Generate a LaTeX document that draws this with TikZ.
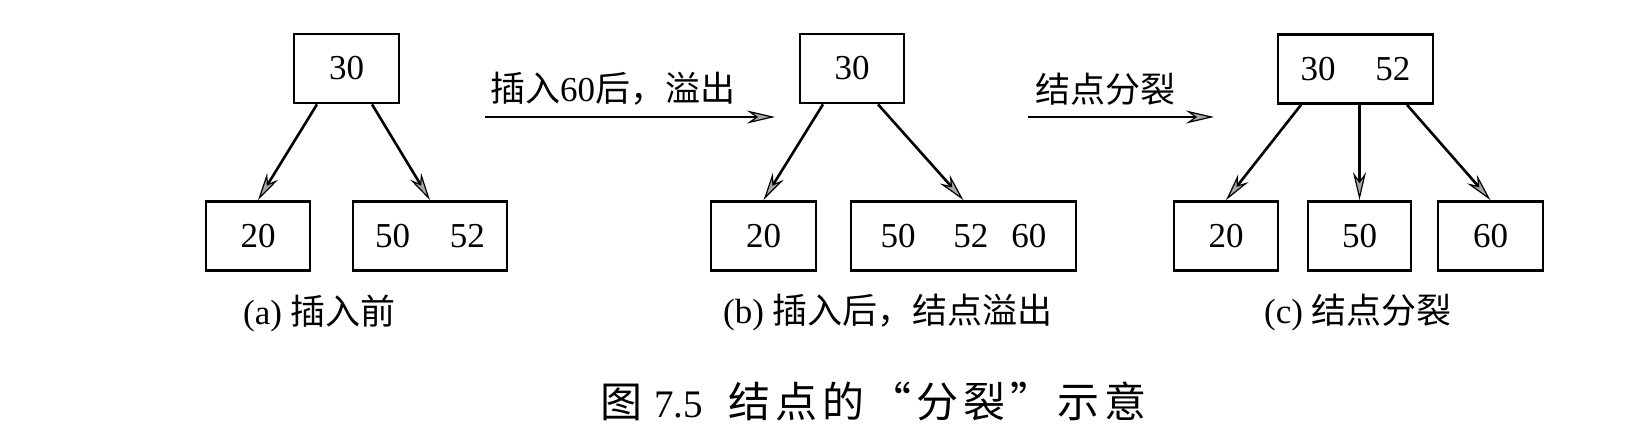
\documentclass[tikz,border=0pt]{standalone}
\usepackage{fontspec}
\setmainfont{Liberation Serif}
\newfontfamily\cjk{Noto Sans CJK SC}
\usetikzlibrary{arrows.meta,calc}
\newcommand\chsp{\hspace{5pt}}
\begin{document}
\begin{tikzpicture}[x=1pt,y=-1pt,
  box/.style={draw,line width=2.7pt,minimum height=69pt,inner sep=0pt,font=\fontsize{35}{40}\selectfont},
  arr/.style={line width=2.6pt,-{Stealth[length=28pt,width=13pt,inset=9pt,fill=gray!70,line width=1.2pt]}},
  lbl/.style={font=\fontsize{35}{40}\selectfont,inner sep=0pt},
  ttl/.style={font=\fontsize{42}{46}\selectfont,inner sep=0pt},
]
\useasboundingbox (0,0) rectangle (1652,444);
% panel a
\node[box,minimum width=105pt] (a30) at (346.5,68.5) {30};
\node[box,minimum width=104pt] (a20) at (258,236) {20};
\node[box,minimum width=154pt] (a5052) at (430,236) {50\hspace{40pt}52};
\draw[arr] ([xshift=-29.5pt]a30.south) -- (a20.north);
\draw[arr] ([xshift=25.5pt]a30.south) -- (a5052.north);
\node[lbl,anchor=west] (capa) at (243,313) {(a) {\cjk 插入前}};
% arrow 1
\coordinate (h1s) at (485,117);
\coordinate (h1e) at (775,117);
\draw[arr] (h1s) -- (h1e);
\node[lbl,anchor=west] (h1l) at (490,89) {{\cjk 插入}60{\cjk 后，溢出}};
% panel b
\node[box,minimum width=104pt] (b30) at (852,68.5) {30};
\node[box,minimum width=105pt] (b20) at (763.5,236) {20};
\node[box,minimum width=225pt] (b506) at (963.5,236) {50\hspace{38pt}52\hspace{23pt}60};
\draw[arr] ([xshift=-29pt]b30.south) -- (b20.north);
\draw[arr] ([xshift=26pt]b30.south) -- (b506.north);
\node[lbl] (capb) at (888,313) {(b) {\cjk 插入后，结点溢出}};
% arrow 2
\coordinate (h2s) at (1028,117);
\coordinate (h2e) at (1214,117);
\draw[arr] (h2s) -- (h2e);
\node[lbl,anchor=west] (h2l) at (1035,89) {\cjk 结点分裂};
% panel c
\node[box,minimum width=155pt] (c3052) at (1355.5,69) {30\hspace{40pt}52};
\node[box,minimum width=104pt] (c20) at (1226,236) {20};
\node[box,minimum width=103pt] (c50) at (1359.5,236) {50};
\node[box,minimum width=105pt] (c60) at (1490.5,236) {60};
\draw[arr] ([xshift=-54.5pt]c3052.south) -- (c20.north);
\draw[arr] (c50.north |- c3052.south) -- (c50.north);
\draw[arr] ([xshift=51.5pt]c3052.south) -- (c60.north);
\node[lbl] (capc) at (1358,313) {(c) {\cjk 结点分裂}};
% title
\node[ttl,anchor=west] (title) at (600,401) {{\cjk 图}\hspace{12pt}{\fontsize{39}{44}\selectfont 7.5}\hspace{26pt}{\cjk 结\chsp 点\chsp 的\chsp “\chsp 分\chsp 裂\chsp ”\chsp 示\chsp 意}};
\end{tikzpicture}
\end{document}
